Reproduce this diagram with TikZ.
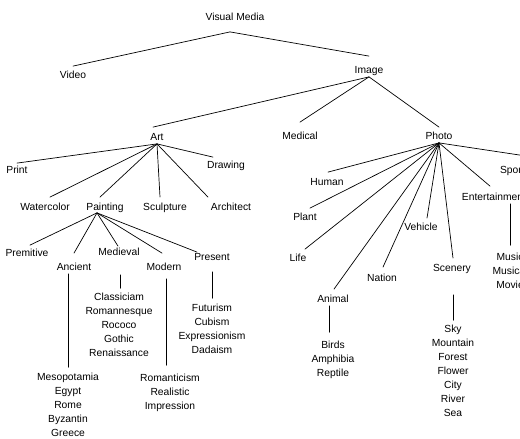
\documentclass[tikz,border=0pt]{standalone}
\usepackage{fontspec}
\setmainfont{Liberation Sans}
\begin{document}
\begin{tikzpicture}[x=1pt,y=-1pt,
  lbl/.style={inner sep=1pt, text height=7.4pt, text depth=2pt, font=\fontsize{10.3}{14}\selectfont},
  lst/.style={inner sep=0pt, align=center, anchor=north, font=\fontsize{10.3}{14}\selectfont},
  con/.style={line width=0.7pt, line cap=round}]
\useasboundingbox (0,0) rectangle (520,439);
\clip (0,0) rectangle (520,439);

% ---------- nodes ----------
\node[lbl] (vm) at (235,18) {Visual Media};
\node[lbl] (video) at (73,76) {Video};
\node[lbl] (image) at (369,71) {Image};
\node[lbl] (art) at (157,138) {Art};
\node[lbl] (medical) at (300,137) {Medical};
\node[lbl] (photo) at (439,137) {Photo};

\node[lbl] (print) at (17,171) {Print};
\node[lbl] (drawing) at (226,166) {Drawing};
\node[lbl] (watercolor) at (45,208) {Watercolor};
\node[lbl] (painting) at (105,208) {Painting};
\node[lbl] (sculpture) at (165,208) {Sculpture};
\node[lbl] (architect) at (231,208) {Architect};

\node[lbl] (premitive) at (27,254) {Premitive};
\node[lbl] (ancient) at (74,268) {Ancient};
\node[lbl] (medieval) at (119,253) {Medieval};
\node[lbl] (modern) at (164,268) {Modern};
\node[lbl] (present) at (212,258) {Present};

\node[lst] (ancl) at (68,373.3) {Mesopotamia\\Egypt\\Rome\\Byzantin\\Greece};
\node[lst] (medl) at (119,293.3) {Classiciam\\Romannesque\\Rococo\\Gothic\\Renaissance};
\node[lst] (modl) at (170,374.3) {Romanticism\\Realistic\\Impression};
\node[lst] (prel) at (212,304.3) {Futurism\\Cubism\\Expressionism\\Dadaism};

\node[lbl] (human) at (327,183) {Human};
\node[lbl] (plant) at (305,218) {Plant};
\node[lbl] (life) at (298,259) {Life};
\node[lbl] (animal) at (333,300) {Animal};
\node[lbl] (nation) at (382,279) {Nation};
\node[lbl] (vehicle) at (421,228) {Vehicle};
\node[lbl] (scenery) at (452,269) {Scenery};
\node[lbl] (ent) at (494,198) {Entertainment};
\node[lbl] (sports) at (515,171) {Sports};

\node[lst] (entl) at (510,253.3) {Music\\Musical\\Movie};
\node[lst] (anil) at (333,341.3) {Birds\\Amphibia\\Reptile};
\node[lst] (scel) at (453,325.3) {Sky\\Mountain\\Forest\\Flower\\City\\River\\Sea};

% ---------- apexes ----------
\coordinate (vma) at ([xshift=-5pt,yshift=-8pt]vm.south);
\coordinate (pta) at ([xshift=-8pt,yshift=1pt]painting.south);

% ---------- connectors ----------
\draw[con] (vma) -- ([yshift=4pt]video.north);
\draw[con] (vma) -- ([yshift=9pt]image.north);

\draw[con] (image.south) -- ([xshift=-4pt,yshift=5pt]art.north);
\draw[con] (image.south) -- ([yshift=9pt]medical.north);
\draw[con] (image.south) -- ([yshift=4pt]photo.north);

\draw[con] (art.south) -- ([yshift=2pt]print.north);
\draw[con] (art.south) -- ([xshift=-13pt,yshift=3pt]drawing.north);
\draw[con] (art.south) -- ([xshift=5pt,yshift=5pt]watercolor.north);
\draw[con] (art.south) -- ([xshift=-5pt,yshift=5pt]painting.north);
\draw[con] (art.south) -- ([xshift=-5pt,yshift=5pt]sculpture.north);
\draw[con] (art.south) -- ([xshift=-23pt,yshift=5pt]architect.north);

\draw[con] (pta) -- ([xshift=3pt,yshift=3pt]premitive.north);
\draw[con] (pta) -- ([yshift=9pt]ancient.north);
\draw[con] (pta) -- ([xshift=-1pt,yshift=1pt]medieval.north);
\draw[con] (pta) -- ([xshift=-2pt,yshift=9pt]modern.north);
\draw[con] (pta) -- ([xshift=-15pt]present.north);

\draw[con, shorten >=6pt] (ancl.north |- ancient.south) -- (ancl.north);
\draw[con, shorten <=16pt, shorten >=5pt] ([xshift=1pt]medieval.south) -- ([xshift=1pt]medl.north);
\draw[con, shorten <=5pt, shorten >=9pt] ([xshift=2pt]modern.south) -- ([xshift=2pt]modern.south |- modl.north);
\draw[con, shorten <=8pt, shorten >=6pt] (present.south) -- (present.south |- prel.north);

\draw[con] (photo.south) -- ([xshift=1pt,yshift=5pt]human.north);
\draw[con] (photo.south) -- ([xshift=5pt,yshift=4pt]plant.north);
\draw[con] (photo.south) -- ([xshift=7pt,yshift=4pt]life.north);
\draw[con] (photo.south) -- ([xshift=1pt,yshift=5pt]animal.north);
\draw[con] (photo.south) -- ([xshift=1pt,yshift=6pt]nation.north);
\draw[con] (photo.south) -- ([xshift=6pt,yshift=4pt]vehicle.north);
\draw[con] (photo.south) -- ([xshift=1pt,yshift=5pt]scenery.north);
\draw[con] (photo.south) -- ([xshift=-4pt,yshift=6pt]ent.north);
\draw[con] (photo.south) -- ([xshift=25pt,yshift=7pt]sports.north);

\draw[con, shorten >=8pt] (entl.north |- ent.south) -- (entl.north);
\draw[con, shorten <=20pt, shorten >=5pt] ([xshift=1pt]scenery.south) -- ([xshift=1pt]scenery.south |- scel.north);
\draw[con, shorten >=9pt] ([xshift=-4pt]animal.south) -- ([xshift=-4pt]animal.south |- anil.north);
\end{tikzpicture}
\end{document}
